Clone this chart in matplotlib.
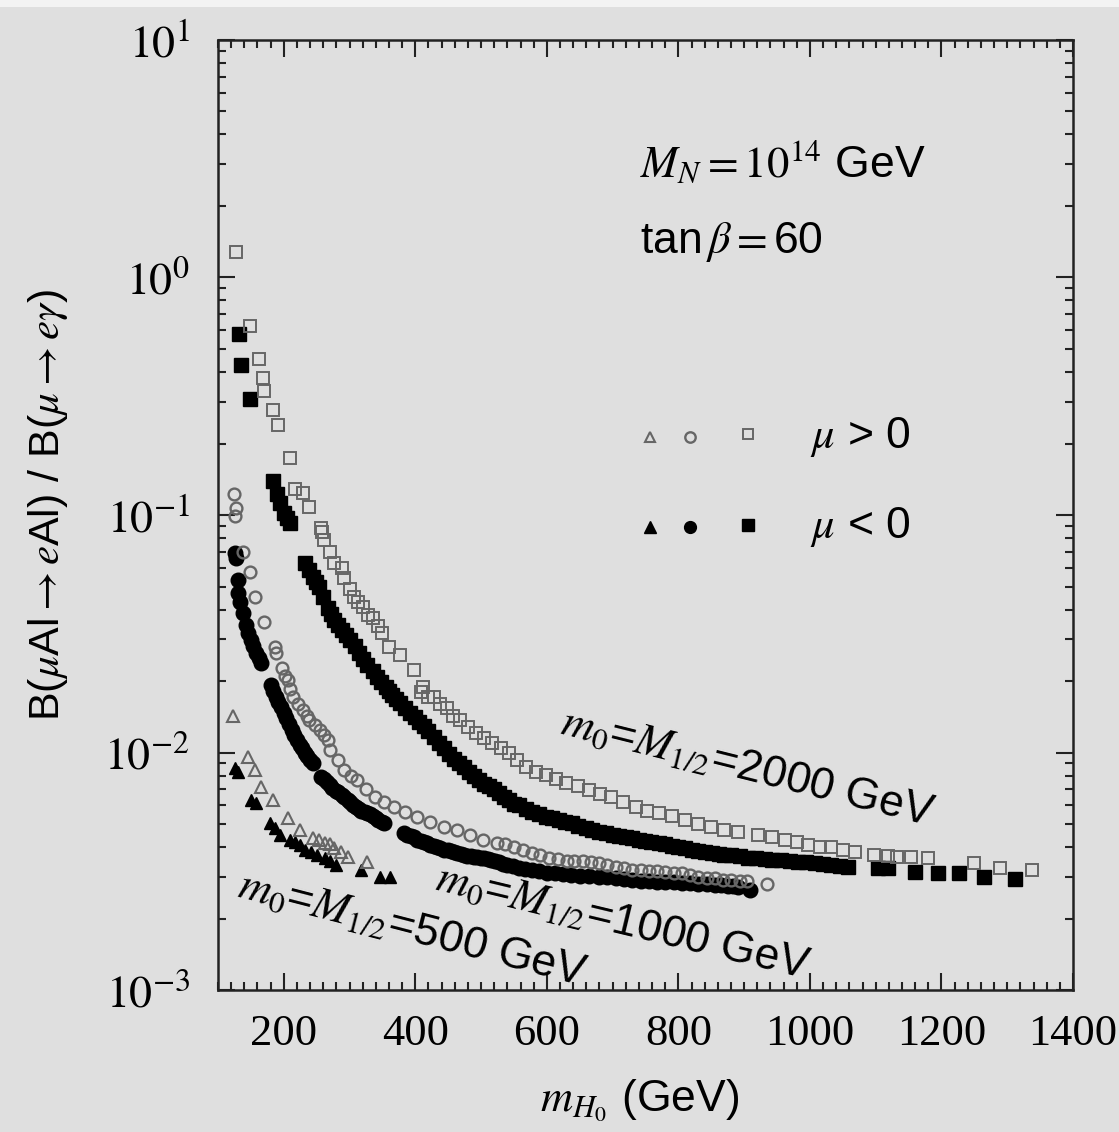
import numpy as np
import matplotlib
matplotlib.use('Agg')
import matplotlib.pyplot as plt
from matplotlib.ticker import MultipleLocator, LogLocator, NullFormatter

plt.rcParams['mathtext.fontset'] = 'stix'
plt.rcParams['font.family'] = ['Liberation Sans', 'DejaVu Sans']

# m0 = M1/2 = 2000 GeV, mu > 0 (open squares)
sq_pos_x = [127, 148, 162, 168, 170, 183, 192, 209, 217, 229, 239, 256, 258, 261, 270, 277,
            289, 292, 300, 307, 313, 320, 328, 335, 343, 350, 360, 376, 398, 409, 411, 420,
            428, 437, 448, 458, 468, 480, 492, 505, 517, 530, 542, 555, 568, 583, 598, 614,
            629, 647, 664, 681, 698, 716, 735, 752, 770, 790, 810, 830, 850, 870, 891, 921,
            942, 962, 980, 997, 1015, 1032, 1050, 1068, 1098, 1118, 1133, 1153, 1179, 1250,
            1289, 1338]
sq_pos_y = [1.28, 0.625, 0.454, 0.378, 0.333, 0.277, 0.239, 0.174, 0.129, 0.124, 0.108, 0.088,
            0.085, 0.0785, 0.0698, 0.0628, 0.0598, 0.0543, 0.049, 0.0452, 0.043, 0.041, 0.038,
            0.0368, 0.034, 0.0318, 0.0278, 0.0257, 0.0222, 0.018, 0.0189, 0.0172, 0.0171, 0.016,
            0.0154, 0.0143, 0.0137, 0.0128, 0.0121, 0.0115, 0.011, 0.0104, 0.00995, 0.0093,
            0.0087, 0.0083, 0.00804, 0.0077, 0.00744, 0.0072, 0.00695, 0.0067, 0.0065, 0.0062,
            0.0059, 0.0057, 0.00556, 0.0054, 0.0052, 0.005, 0.00486, 0.0047, 0.00463, 0.0045,
            0.0044, 0.00428, 0.0042, 0.00408, 0.0040, 0.0040, 0.0039, 0.00381, 0.00371, 0.00365,
            0.00363, 0.00362, 0.0036, 0.00343, 0.00327, 0.0032]

# m0 = M1/2 = 2000 GeV, mu < 0 (filled squares)
sq_neg_x = [132, 135, 148, 183, 190, 195, 201, 205, 209, 233, 238, 244, 249, 254, 260, 267,
            272, 277, 283, 289, 295, 301, 308, 315, 321, 327, 335, 342, 348, 355, 360, 365,
            370, 376, 384, 392, 399, 406, 413, 420, 428, 436, 443, 451, 459, 467, 474, 482,
            489, 497, 504, 512, 520, 527, 535, 543, 550, 558, 568, 578, 588, 598, 608, 618,
            628, 638, 648, 659, 669, 679, 690, 700, 710, 720, 730, 740, 750, 759, 770, 780,
            790, 800, 810, 820, 830, 841, 851, 861, 870, 880, 893, 906, 918, 931, 943, 956,
            969, 982, 994, 1007, 1020, 1032, 1045, 1058, 1103, 1118, 1159, 1194, 1227, 1265,
            1312]
sq_neg_y = [0.578, 0.428, 0.308, 0.139, 0.123, 0.1125, 0.102, 0.097, 0.0925, 0.0628, 0.0585,
            0.0548, 0.052, 0.0498, 0.0452, 0.0406, 0.0382, 0.0361, 0.0344, 0.0328, 0.0312,
            0.0298, 0.028, 0.0262, 0.0247, 0.0233, 0.022, 0.0208, 0.0198, 0.0189, 0.0182,
            0.0175, 0.0168, 0.0162, 0.0154, 0.0147, 0.0141, 0.0135, 0.0129, 0.0123, 0.0116,
            0.011, 0.0104, 0.0099, 0.0094, 0.00903, 0.0087, 0.0083, 0.0080, 0.00766, 0.0074,
            0.0072, 0.0070, 0.00675, 0.0065, 0.0063, 0.0061, 0.00601, 0.0058, 0.0056, 0.0055,
            0.00535, 0.0053, 0.0052, 0.0051, 0.00504, 0.0049, 0.0048, 0.0047, 0.00463, 0.0046,
            0.0045, 0.00445, 0.0044, 0.00435, 0.0043, 0.00425, 0.0042, 0.00415, 0.0041, 0.00405,
            0.0040, 0.00395, 0.0039, 0.00385, 0.00381, 0.00378, 0.00375, 0.00372, 0.0037,
            0.00365, 0.0036, 0.00358, 0.00356, 0.00354, 0.00352, 0.0035, 0.00347, 0.00345,
            0.00343, 0.0034, 0.00336, 0.00333, 0.0033, 0.00327, 0.00325, 0.00315, 0.00311,
            0.00311, 0.0030, 0.00293]

# m0 = M1/2 = 1000 GeV, mu > 0 (open circles)
ci_pos_x = [124, 127, 126, 138, 148, 156, 170, 186, 188, 198, 202, 206, 210, 214, 222, 229,
            235, 239, 247, 255, 261, 267, 271, 282, 292, 302, 312, 325, 338, 353, 368, 385,
            403, 423, 444, 463, 483, 503, 524, 537, 550, 563, 577, 590, 603, 617, 630, 642,
            655, 667, 679, 692, 705, 718, 730, 743, 755, 768, 780, 793, 805, 818, 830, 843,
            855, 868, 880, 893, 905, 934]
ci_pos_y = [0.1225, 0.107, 0.099, 0.0698, 0.0575, 0.0452, 0.0354, 0.0278, 0.0262, 0.0227,
            0.021, 0.0202, 0.0185, 0.0171, 0.016, 0.0151, 0.0143, 0.0137, 0.0131, 0.0125,
            0.0119, 0.0113, 0.01026, 0.0093, 0.00844, 0.008, 0.00766, 0.007, 0.0065, 0.0062,
            0.0059, 0.0056, 0.00535, 0.0051, 0.00486, 0.0047, 0.0045, 0.0043, 0.00416, 0.0041,
            0.0040, 0.0039, 0.00377, 0.0037, 0.0036, 0.00355, 0.0035, 0.0035, 0.00348, 0.00345,
            0.00343, 0.00336, 0.0033, 0.00325, 0.0032, 0.00319, 0.00318, 0.00316, 0.00314,
            0.00312, 0.0031, 0.00305, 0.0030, 0.00297, 0.00295, 0.00292, 0.0029, 0.00288,
            0.00287, 0.0028]

# m0 = M1/2 = 1000 GeV, mu < 0 (filled circles)
ci_neg_x = [126, 128, 130, 130, 134, 138, 142, 146, 150, 154, 158, 162, 165, 180, 184, 188,
            192, 196, 200, 204, 208, 212, 216, 220, 224, 228, 232, 236, 240, 244, 256, 261,
            265, 270, 274, 279, 283, 288, 292, 297, 301, 306, 310, 314, 318, 323, 327, 331,
            335, 340, 344, 349, 353, 383, 388, 393, 398, 403, 408, 413, 418, 423, 428, 433,
            438, 443, 449, 454, 459, 464, 469, 474, 479, 484, 489, 494, 500, 505, 510, 515,
            521, 527, 533, 539, 548, 558, 567, 577, 588, 600, 612, 625, 637, 650, 664, 679,
            692, 705, 718, 730, 743, 755, 768, 780, 793, 805, 818, 830, 843, 855, 865, 875,
            883, 891, 909]
ci_neg_y = [0.069, 0.066, 0.0532, 0.047, 0.043, 0.0386, 0.0344, 0.032, 0.0298, 0.028, 0.0262,
            0.025, 0.0238, 0.0192, 0.0182, 0.0172, 0.0163, 0.0155, 0.0147, 0.014, 0.0132,
            0.0125, 0.0119, 0.0113, 0.0108, 0.0104, 0.0100, 0.0097, 0.0093, 0.00903, 0.0079,
            0.0077, 0.0075, 0.0073, 0.0071, 0.0069, 0.0068, 0.0066, 0.0065, 0.0063, 0.0062,
            0.0060, 0.0059, 0.0058, 0.0057, 0.0056, 0.00556, 0.0055, 0.0054, 0.0053, 0.0052,
            0.0051, 0.00504, 0.00458, 0.0045, 0.00445, 0.0044, 0.0043, 0.00425, 0.0042, 0.00414,
            0.00408, 0.00404, 0.0040, 0.00395, 0.0039, 0.00388, 0.00385, 0.0038, 0.00377,
            0.00374, 0.0037, 0.00368, 0.00366, 0.00364, 0.00362, 0.00361, 0.0036, 0.00356,
            0.00352, 0.00348, 0.00345, 0.0034, 0.00336, 0.00332, 0.00328, 0.00324, 0.0032,
            0.00316, 0.00312, 0.0031, 0.00307, 0.00305, 0.00303, 0.00301, 0.0030, 0.00298,
            0.00296, 0.00293, 0.0029, 0.00288, 0.00287, 0.00286, 0.00285, 0.00284, 0.00283,
            0.00282, 0.0028, 0.00279, 0.00277, 0.00276, 0.00275, 0.00273, 0.00272, 0.00264]

# m0 = M1/2 = 500 GeV, mu > 0 (open triangles)
tr_pos_x = [123, 145, 156, 165, 183, 206, 224, 244, 253, 262, 270, 277, 287, 297, 327]
tr_pos_y = [0.01426, 0.00957, 0.00844, 0.00716, 0.0063, 0.0053, 0.00472, 0.00437, 0.0043,
            0.00416, 0.0041, 0.00396, 0.0038, 0.00363, 0.00346]

# m0 = M1/2 = 500 GeV, mu < 0 (filled triangles)
tr_neg_x = [126, 130, 150, 158, 179, 187, 195, 209, 217, 224, 233, 241, 250, 262, 270, 279,
            317, 347, 362]
tr_neg_y = [0.0086, 0.0083, 0.0063, 0.00612, 0.00504, 0.0048, 0.0045, 0.00428, 0.0042,
            0.00408, 0.0039, 0.00381, 0.0037, 0.0036, 0.0035, 0.00336, 0.0032, 0.0030, 0.0030]

x_ticks = [200, 400, 600, 800, 1000, 1200, 1400]
y_ticks = [1e-3, 1e-2, 1e-1, 1e0, 1e1]
y_labels = [r'$10^{-3}$', r'$10^{-2}$', r'$10^{-1}$', r'$10^{0}$', r'$10^{1}$']

bg = '#dfdfdf'
open_col = '#666666'

fig = plt.figure(figsize=(11.19, 11.32), dpi=100, facecolor=bg)
ax = fig.add_axes([0.1948, 0.1254, 0.7641, 0.8393])
ax.set_facecolor(bg)

ax.plot(sq_neg_x, sq_neg_y, 's', ms=9.5, color='black', ls='none')
ax.plot(ci_neg_x, ci_neg_y, 'o', ms=10.5, color='black', ls='none')
ax.plot(tr_neg_x, tr_neg_y, '^', ms=8.5, color='black', ls='none')
ax.plot(sq_pos_x, sq_pos_y, 's', ms=8.5, mfc='none', mec=open_col, mew=1.4, ls='none')
ax.plot(ci_pos_x, ci_pos_y, 'o', ms=8.5, mfc='none', mec=open_col, mew=1.7, ls='none')
ax.plot(tr_pos_x, tr_pos_y, '^', ms=8, mfc='none', mec=open_col, mew=1.5, ls='none')

ax.set_yscale('log')
ax.set_xlim(100, 1400)
ax.set_ylim(1e-3, 1e1)

ax.xaxis.set_minor_locator(MultipleLocator(20))
ax.set_xticks(x_ticks)
ax.set_xticklabels([str(t) for t in x_ticks])
ax.set_yticks(y_ticks)
ax.set_yticklabels(y_labels)
ax.yaxis.set_minor_locator(LogLocator(base=10, subs=np.arange(2, 10)))
ax.yaxis.set_minor_formatter(NullFormatter())

ax.tick_params(which='both', direction='in', top=True, right=True, color='#222222')
ax.tick_params(which='major', length=12, width=1.5)
ax.tick_params(which='minor', length=6, width=1.5)
ax.tick_params(axis='x', which='major', pad=17, labelsize=32)
ax.tick_params(axis='y', which='major', pad=20, labelsize=33)
for lab in ax.get_xticklabels():
    lab.set_fontfamily('Liberation Serif')
for sp in ax.spines.values():
    sp.set_linewidth(1.8)
    sp.set_color('#222222')

fig.text(48 / 1119, 1 - 505 / 1132,
         r'B($\mu$Al$\rightarrow$$e$Al) / B($\mu$$\rightarrow$$e\gamma$)',
         rotation=90, ha='center', va='center', fontsize=31)
fig.text(640 / 1119, 1 - 1100 / 1132, r'$m_{H_0}$ (GeV)', ha='center', va='center', fontsize=32)

ax.text(0.4936, 0.8705, r'$M_N = 10^{14}$ GeV', transform=ax.transAxes,
        ha='left', va='center', fontsize=32)
ax.text(0.4936, 0.787, r'tan$\,\beta = $60', transform=ax.transAxes,
        ha='left', va='center', fontsize=32)

# marker key
ax.plot([0.505], [0.582], '^', ms=7.5, mfc='none', mec=open_col, mew=1.5, transform=ax.transAxes)
ax.plot([0.552], [0.582], 'o', ms=7.5, mfc='none', mec=open_col, mew=1.7, transform=ax.transAxes)
ax.plot([0.62], [0.585], 's', ms=7.5, mfc='none', mec=open_col, mew=1.4, transform=ax.transAxes)
ax.plot([0.505], [0.487], '^', ms=8.5, color='black', transform=ax.transAxes)
ax.plot([0.552], [0.487], 'o', ms=8.5, color='black', transform=ax.transAxes)
ax.plot([0.62], [0.49], 's', ms=8.5, color='black', transform=ax.transAxes)
ax.text(0.692, 0.582, r'$\mu$ > 0', transform=ax.transAxes, ha='left', va='center', fontsize=32)
ax.text(0.692, 0.487, r'$\mu$ < 0', transform=ax.transAxes, ha='left', va='center', fontsize=32)

kw = dict(ha='left', va='baseline', rotation_mode='anchor', fontsize=32)
ax.text(618, 0.0120, r'$m_0$=$M_{1/2}$=2000 GeV', rotation=-14, **kw)
ax.text(428, 0.00266, r'$m_0$=$M_{1/2}$=1000 GeV', rotation=-13.5, **kw)
ax.text(127, 0.00249, r'$m_0$=$M_{1/2}$=500 GeV', rotation=-14.5, **kw)

# light strip along the top edge
fig.patches.append(plt.Rectangle((0, 1 - 7 / 1132), 1, 7 / 1132, transform=fig.transFigure,
                                 facecolor='#f3f3f3', edgecolor='none'))

fig.savefig('out.png', dpi=100, facecolor=bg)
